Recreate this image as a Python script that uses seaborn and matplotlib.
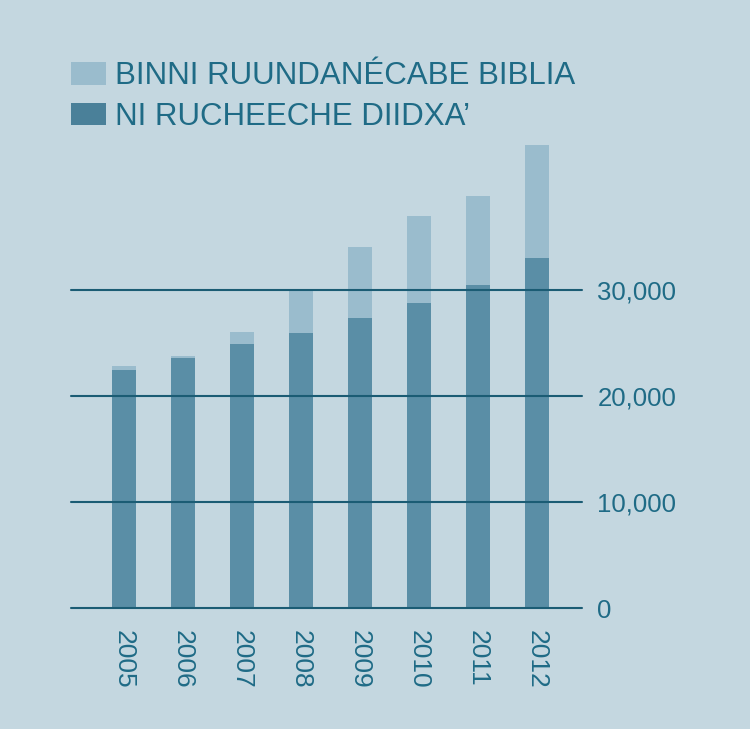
import matplotlib
matplotlib.use("Agg")
import matplotlib.pyplot as plt
from matplotlib.patches import Patch
import seaborn as sns
import pandas as pd

# data
years = ["2005", "2006", "2007", "2008", "2009", "2010", "2011", "2012"]
bible_studies = [22850, 23750, 26050, 30000, 34050, 36950, 38900, 43650]
publishers = [22450, 23550, 24900, 25950, 27350, 28800, 30450, 33000]
yticks = [0, 10000, 20000, 30000]
labels = ["BINNI RUUNDANÉCABE BIBLIA", "NI RUCHEECHE DIIDXA’"]

bg = "#c4d7e0"
light = "#9abccd"
dark = "#5a8ea6"
dark_key = "#4a8099"
text_c = "#1f6b86"
line_c = "#1b5c74"

sns.set_theme(style="white")
plt.rcParams["font.family"] = ["Liberation Sans", "DejaVu Sans"]

df = pd.DataFrame({"year": years, "bible": bible_studies, "pub": publishers})

fig = plt.figure(figsize=(7.5, 7.29), dpi=100, facecolor=bg)
ax = fig.add_axes([71 / 750, 121 / 729, 511 / 750, 466.4 / 729])
ax.set_facecolor(bg)

sns.barplot(data=df, x="year", y="bible", color=light, saturation=1, width=0.41,
            linewidth=0, edgecolor="none", ax=ax, zorder=1)
sns.barplot(data=df, x="year", y="pub", color=dark, saturation=1, width=0.41,
            linewidth=0, edgecolor="none", ax=ax, zorder=2)

ax.set_xlim(-0.898, 7.763)
ax.set_ylim(0, 44000)
for v in yticks:
    ax.axhline(v, color=line_c, lw=1.5, zorder=3, clip_on=False)

for s in ax.spines.values():
    s.set_visible(False)
ax.set_xlabel("")
ax.set_ylabel("")
ax.yaxis.tick_right()
ax.set_yticks(yticks)
ax.set_yticklabels([f"{v:,}" for v in yticks])
ax.tick_params(axis="y", length=0, pad=11, labelsize=18.5, labelcolor=text_c)
ax.tick_params(axis="x", length=0, pad=16, labelsize=19, labelcolor=text_c)
for t in ax.get_xticklabels():
    t.set_rotation(270)

handles = [Patch(facecolor=light, edgecolor="none"), Patch(facecolor=dark_key, edgecolor="none")]
leg = fig.legend(handles, labels, loc="upper left", bbox_to_anchor=(58 / 750, 1 - 49 / 729),
                 frameon=False, fontsize=22.5, handlelength=1.12, handleheight=0.73,
                 handletextpad=0.3, labelspacing=0.33, borderaxespad=0)
for t in leg.get_texts():
    t.set_color(text_c)

fig.savefig("out.png", dpi=100, facecolor=bg)
